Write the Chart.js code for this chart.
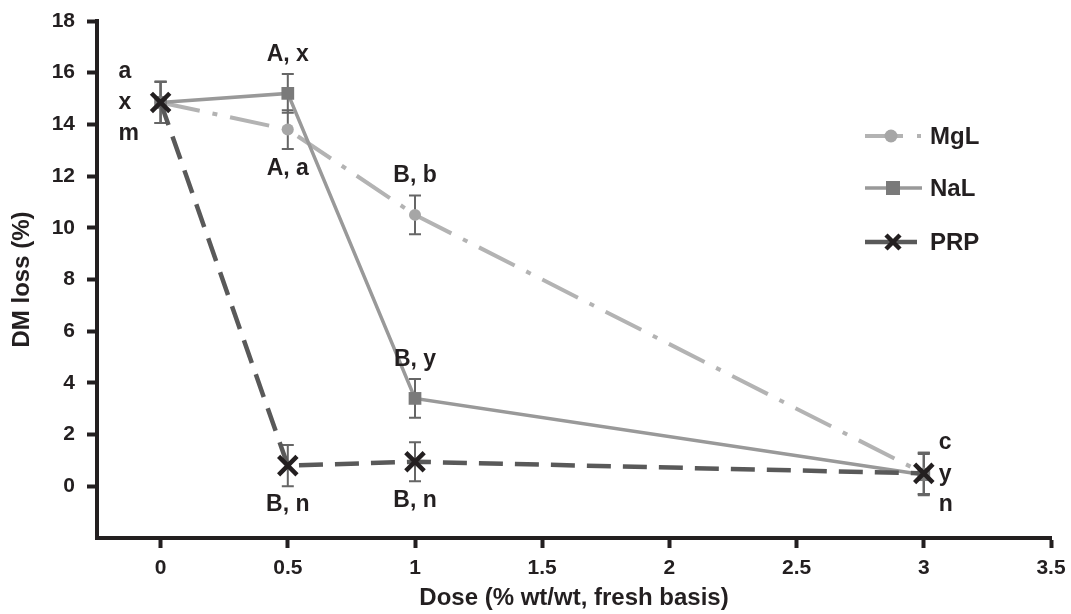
<!DOCTYPE html>
<html>
<head>
<meta charset="utf-8">
<script src="https://cdn.jsdelivr.net/npm/chart.js@4.4.1/dist/chart.umd.min.js"></script>
<style>
  html, body { margin: 0; padding: 0; background: #fff; }
  #wrap { width: 1071px; height: 614px; }
</style>
</head>
<body>
<div id="wrap"><canvas id="doseChart" width="1071" height="614"></canvas></div>
<script>
// data
const doses = [0, 0.5, 1, 3];
const mglLoss = [14.85, 13.8, 10.5, 0.5];
const nalLoss = [14.85, 15.2, 3.4, 0.45];
const prpLoss = [14.85, 0.8, 0.95, 0.5];
const mglErr = [0.8, 0.75, 0.75, 0.8];
const nalErr = [0.8, 0.75, 0.75, 0.8];
const prpErr = [0.8, 0.8, 0.75, 0.8];
const mglLetters = ['a', 'A, a', 'B, b', 'c'];
const nalLetters = ['x', 'A, x', 'B, y', 'y'];
const prpLetters = ['m', 'B, n', 'B, n', 'n'];
const xTicks = [0, 0.5, 1, 1.5, 2, 2.5, 3, 3.5];
const yTicks = [0, 2, 4, 6, 8, 10, 12, 14, 16, 18];

// where each letter goes relative to its point
const mglPlace = ['stackTop', 'below', 'above', 'rstackTop'];
const nalPlace = ['stackMid', 'above', 'above', 'rstackMid'];
const prpPlace = ['stackBot', 'below', 'below', 'rstackBot'];

const FONT = '"Liberation Sans", Arial, sans-serif';
const INK = '#231f20';

function pts(ys) {
    return doses.map((d, i) => ({ x: d, y: ys[i] }));
}

const datasets = [
    {
        label: 'MgL', data: pts(mglLoss), errs: mglErr, letters: mglLetters, place: mglPlace,
        borderColor: '#b3b3b3', backgroundColor: '#a6a6a6', borderWidth: 4,
        borderDash: [40, 13, 5, 13], pointStyle: 'circle', pointRadius: 6,
        pointBorderWidth: 0, order: 3
    },
    {
        label: 'NaL', data: pts(nalLoss), errs: nalErr, letters: nalLetters, place: nalPlace,
        borderColor: '#999999', backgroundColor: '#7a7a7a', borderWidth: 3.5,
        pointStyle: 'rect', pointRadius: 9, pointBorderWidth: 0, order: 2
    },
    {
        label: 'PRP', data: pts(prpLoss), errs: prpErr, letters: prpLetters, place: prpPlace,
        borderColor: '#595959', backgroundColor: INK, borderWidth: 4.5,
        borderDash: [24, 12], pointStyle: 'crossRot', pointRadius: 13,
        pointBorderColor: INK, pointBorderWidth: 4.5, order: 1
    }
];

// error bars, drawn under the markers
const errorBars = {
    id: 'errorBars',
    beforeDatasetsDraw(chart) {
        const ctx = chart.ctx;
        const xs = chart.scales.x, ys = chart.scales.y;
        ctx.save();
        ctx.strokeStyle = '#666666';
        ctx.lineWidth = 2;
        chart.data.datasets.forEach(ds => {
            ds.data.forEach((p, i) => {
                const e = ds.errs[i];
                const px = xs.getPixelForValue(p.x);
                const top = ys.getPixelForValue(p.y + e);
                const bot = ys.getPixelForValue(p.y - e);
                ctx.beginPath();
                ctx.moveTo(px, top); ctx.lineTo(px, bot);
                ctx.moveTo(px - 6, top); ctx.lineTo(px + 6, top);
                ctx.moveTo(px - 6, bot); ctx.lineTo(px + 6, bot);
                ctx.stroke();
            });
        });
        ctx.restore();
    }
};

// significance letters next to the points
const letterLabels = {
    id: 'letterLabels',
    afterDatasetsDraw(chart) {
        const ctx = chart.ctx;
        const xs = chart.scales.x, ys = chart.scales.y;
        ctx.save();
        ctx.font = 'bold 23px ' + FONT;
        ctx.fillStyle = INK;
        ctx.textBaseline = 'middle';
        chart.data.datasets.forEach(ds => {
            ds.data.forEach((p, i) => {
                const px = xs.getPixelForValue(p.x);
                const py = ys.getPixelForValue(p.y);
                const where = ds.place[i];
                let tx = px, ty = py;
                ctx.textAlign = 'center';
                if (where === 'above') ty = py - 39;
                else if (where === 'below') ty = py + 39;
                else if (where.startsWith('stack')) {
                    ctx.textAlign = 'left';
                    tx = px - 42;
                    ty = py + { stackTop: -31, stackMid: 0, stackBot: 31 }[where];
                } else {
                    ctx.textAlign = 'left';
                    tx = px + 15;
                    ty = py + { rstackTop: -31, rstackMid: 0, rstackBot: 31 }[where];
                }
                ctx.fillText(ds.letters[i], tx, ty);
            });
        });
        ctx.restore();
    }
};

// legend sitting inside the plot area on the right
const insideLegend = {
    id: 'insideLegend',
    afterDraw(chart) {
        const ctx = chart.ctx;
        const rows = [136, 188, 242];
        ctx.save();
        chart.data.datasets.forEach((ds, i) => {
            const y = rows[i];
            const x0 = 865, x1 = ds.label === 'PRP' ? 917 : 922;
            ctx.strokeStyle = ds.borderColor;
            ctx.lineWidth = ds.borderWidth;
            ctx.setLineDash(ds.label === 'MgL' ? [38, 14, 4, 10] : []);
            ctx.beginPath();
            ctx.moveTo(x0, y); ctx.lineTo(x1, y);
            ctx.stroke();
            ctx.setLineDash([]);
            const mx = ds.label === 'MgL' ? 891 : 893;
            ctx.fillStyle = ds.backgroundColor;
            ctx.strokeStyle = ds.pointBorderColor || ds.backgroundColor;
            ctx.lineWidth = ds.pointBorderWidth || 0;
            ctx.beginPath();
            if (ds.pointStyle === 'circle') {
                ctx.arc(mx, y, 6.5, 0, Math.PI * 2); ctx.fill();
            } else if (ds.pointStyle === 'rect') {
                ctx.fillRect(mx - 7, y - 7, 14, 14);
            } else {
                ctx.moveTo(mx - 7, y - 7); ctx.lineTo(mx + 7, y + 7);
                ctx.moveTo(mx + 7, y - 7); ctx.lineTo(mx - 7, y + 7);
                ctx.stroke();
            }
            ctx.font = 'bold 24px ' + FONT;
            ctx.fillStyle = INK;
            ctx.textAlign = 'left';
            ctx.textBaseline = 'middle';
            ctx.fillText(ds.label, 930, y + 1);
        });
        ctx.restore();
    }
};

const tickFont = { family: FONT, size: 21, weight: 'bold' };
const titleFont = { family: FONT, size: 24, weight: 'bold' };

new Chart(document.getElementById('doseChart').getContext('2d'), {
    type: 'line',
    data: { datasets: datasets },
    options: {
        responsive: false,
        animation: false,
        layout: { padding: { top: 21, right: 20, left: 0, bottom: 0 } },
        plugins: { legend: { display: false }, tooltip: { enabled: false } },
        scales: {
            x: {
                type: 'linear', min: -0.25, max: 3.5,
                afterBuildTicks: s => { s.ticks = xTicks.map(v => ({ value: v })); },
                afterFit: s => { s.height = 76; s.paddingLeft = 0; s.paddingRight = 0; },
                border: { display: true, color: INK, width: 4 },
                grid: { drawOnChartArea: false, tickLength: 10, tickWidth: 4, tickColor: INK },
                ticks: { color: INK, font: tickFont, padding: 8, maxRotation: 0, callback: v => String(v) },
                title: { display: true, text: 'Dose (% wt/wt, fresh basis)', color: INK, font: titleFont, padding: { top: 0, bottom: 1 } }
            },
            y: {
                type: 'linear', min: -2, max: 18,
                afterBuildTicks: s => { s.ticks = yTicks.map(v => ({ value: v })); },
                afterFit: s => { s.width = 97; s.paddingTop = 0; s.paddingBottom = 0; },
                border: { display: true, color: INK, width: 4 },
                grid: { drawOnChartArea: false, tickLength: 10, tickWidth: 4, tickColor: INK },
                ticks: { color: INK, font: tickFont, padding: 12, callback: v => String(v) },
                title: { display: true, text: 'DM loss (%)', color: INK, font: titleFont, padding: { top: 8, bottom: 0 } }
            }
        }
    },
    plugins: [errorBars, letterLabels, insideLegend]
});
</script>
</body>
</html>
